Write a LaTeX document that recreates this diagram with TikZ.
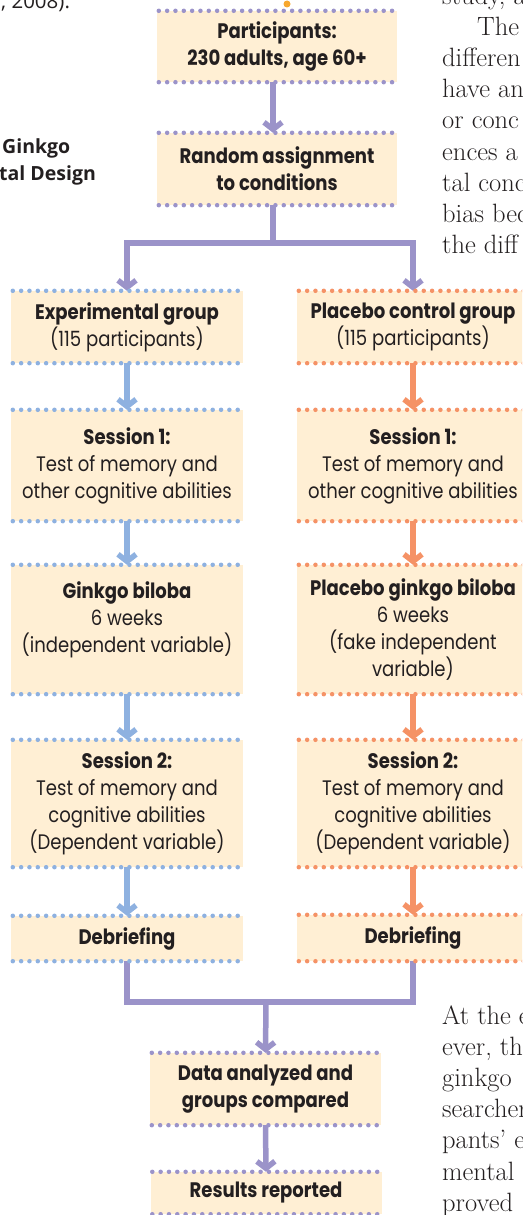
\documentclass[tikz,border=0pt]{standalone}
\usepackage{fontspec}
\usepackage{xcolor}
\usepackage{tikz}
\usetikzlibrary{arrows.meta,positioning}
\newfontfamily\boxfont[FakeStretch=0.86]{Poppins}
\newfontfamily\capfont{Open Sans}
\definecolor{cream}{RGB}{255,239,212}
\definecolor{lav}{RGB}{155,147,201}
\definecolor{sky}{RGB}{142,177,224}
\definecolor{coral}{RGB}{245,146,102}
\definecolor{dotorange}{RGB}{247,168,48}
\definecolor{ink}{RGB}{35,31,32}
\tikzset{
  stepbox/.style={fill=cream,inner sep=0pt,align=center,minimum width=232pt,
    text=ink,font=\boxfont\fontsize{21}{27}\selectfont},
  dotrule/.style={line width=4.5pt,line cap=round,dash pattern=on 0pt off 8.33pt},
  flow/.style={line width=5.5pt,-{Straight Barb[length=7pt,width=18pt,line join=miter]}},
  joinline/.style={line width=5.5pt,lav},
  bodytext/.style={font=\fontsize{26.5}{31.2}\selectfont,align=left,inner sep=0pt,text=ink},
  captext/.style={font=\capfont\fontsize{20.5}{27}\selectfont,align=left,inner sep=0pt,text=ink},
}

\begin{document}
\begin{tikzpicture}[x=1pt,y=-1pt]
        \useasboundingbox (0,0) rectangle (522,1215);
        \clip (0,0) rectangle (522,1215);
        % page text around the figure (base = last line)
        \node[captext,anchor=base west] (yr) at (1,9) {, 2008).};
        \node[captext,font=\capfont\bfseries\fontsize{19.5}{27}\selectfont,anchor=base west]
             (cap) at (-1,180) {\hspace*{3pt}Ginkgo\\tal Design};
        \node[bodytext,anchor=base west] (colA) at (442,253.6)
             {study, a\\\hspace*{35pt}The\\differen\\have an\\or conc\\ences a\\tal conc\\bias bec\\the diff};
        \node[bodytext,anchor=base west] (colB) at (442,1211.2)
             {At the e\\ever, th\\ginkgo\\searcher\\pants' e\\mental\\proved};
        % boxes
        \node[stepbox,minimum width=240pt,minimum height=71pt] (part) at (277,46.5)
             {\bfseries Participants:\\\bfseries 230 adults, age 60+};
        \node[stepbox,minimum width=240pt,minimum height=72pt] (rand) at (277,169)
             {\bfseries Random assignment\\\bfseries to conditions};
        \node[stepbox,minimum height=72pt] (expg) at (127,327)
             {\bfseries Experimental group\\(115 participants)};
        \node[stepbox,minimum height=72pt] (plac) at (413,327)
             {\bfseries Placebo control group\\(115 participants)};
        \node[stepbox,minimum height=111pt] (s1L) at (127,465.5)
             {\bfseries Session 1:\\Test of memory and\\other cognitive abilities};
        \node[stepbox,minimum height=111pt] (s1R) at (413,465.5)
             {\bfseries Session 1:\\Test of memory and\\other cognitive abilities};
        \node[stepbox,minimum height=129pt,text depth=25pt] (gL) at (127,629.5)
             {\bfseries Ginkgo biloba\\6 weeks\\(independent variable)};
        \node[stepbox,minimum height=129pt] (gR) at (413,629.5)
             {\bfseries Placebo ginkgo biloba\\6 weeks\\(fake independent\\variable)};
        \node[stepbox,minimum height=127pt] (s2L) at (127,803.5)
             {\bfseries Session 2:\\Test of memory and\\cognitive abilities\\(Dependent variable)};
        \node[stepbox,minimum height=127pt] (s2R) at (413,803.5)
             {\bfseries Session 2:\\Test of memory and\\cognitive abilities\\(Dependent variable)};
        \node[stepbox,minimum height=45pt] (dL) at (127,938.5) {\bfseries Debriefing};
        \node[stepbox,minimum height=46pt] (dR) at (413,938) {\bfseries Debriefing};
        \node[stepbox,minimum width=231pt,minimum height=72pt] (data) at (265.5,1089)
             {\bfseries Data analyzed and\\\bfseries groups compared};
        \node[stepbox,minimum width=231pt,minimum height=42pt] (res) at (266,1193)
             {\bfseries Results reported};
        % connectors
        \draw[flow,lav] ([xshift=-4pt]part.south) -- ([xshift=-4pt]rand.north);
        \draw[flow,lav] ([xshift=-4pt]rand.south) -- ++(0,38) -| (expg.north);
        \draw[flow,lav] ([xshift=-4pt]rand.south) -- ++(0,38) -| (plac.north);
        \foreach \a/\b in {expg/s1L,s1L/gL,gL/s2L,s2L/dL}
          \draw[flow,sky] (\a.south) -- (\b.north);
        \foreach \a/\b in {plac/s1R,s1R/gR,gR/s2R,s2R/dR}
          \draw[flow,coral] (\a.south) -- (\b.north);
        \coordinate (merge) at (266,1002);
        \draw[joinline] (dL.south) |- (merge) -| (dR.south);
        \draw[flow,lav] (merge) -- (data.north);
        \draw[flow,lav] (data.south) -- (res.north);
        % dotted rules
        \foreach \n/\c in {part/lav,rand/lav,expg/sky,s1L/sky,gL/sky,s2L/sky,dL/sky,
                           plac/coral,s1R/coral,gR/coral,s2R/coral,dR/coral,data/lav,res/lav}{
          \draw[dotrule,\c] ([xshift=2pt]\n.north west) -- (\n.north east);
          \draw[dotrule,\c] ([xshift=2pt]\n.south west) -- (\n.south east);
        }
        \fill[dotorange] (287,4) circle (3.5pt);
      \end{tikzpicture}
\end{document}
